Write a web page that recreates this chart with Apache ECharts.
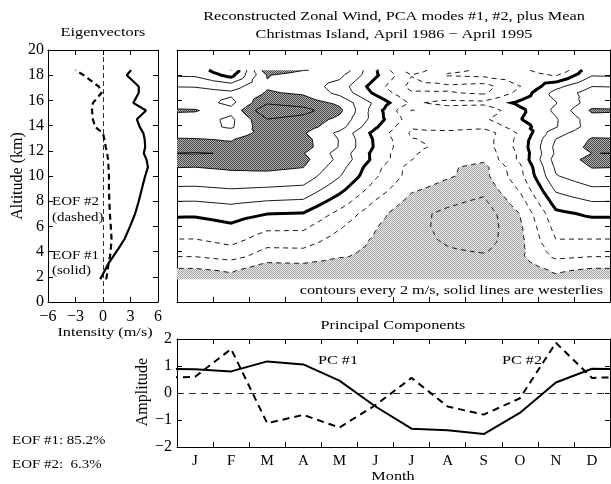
<!DOCTYPE html>
<html><head><meta charset="utf-8">
<script src="https://cdn.jsdelivr.net/npm/echarts@6/dist/echarts.min.js"></script>
<style>html,body{margin:0;padding:0;background:#fff}#c{width:611px;height:484px}</style>
</head><body><div id="c"></div>
<script>
// ---------------- data ----------------
const ALTITUDE_KM = [1.8,2.5,3.0,3.6,4.2,5.0,6.0,7.0,8.0,9.0,10.0,10.7,11.3,11.8,12.3,12.9,13.4,13.9,14.5,15.2,15.8,16.6,17.1,18.0,18.4];
const EOF1 = [-0.3,0.2,0.55,1.1,1.65,2.35,2.95,3.5,3.9,4.25,4.6,4.9,4.75,4.45,4.6,4.55,4.4,4.0,3.7,4.7,3.3,3.9,3.9,2.6,3.05];
const EOF2 = [0.35,0.5,0.6,0.76,0.85,0.93,0.85,0.75,0.69,0.65,0.65,0.6,0.55,0.45,0.3,0.15,0.0,-0.87,-1.1,-1.2,-1.1,-0.15,-0.45,-2.1,-3.0];
const MEAN_WIND = [-6.95,-6.78,-6.24,-5.42,-5.16,-4.63,-4.01,-3.23,-1.85,-0.43,0.86,1.33,1.99,1.76,2.17,2.01,1.53,1.9,2.4,2.78,2.66,1.46,0.74,0.7,0.4];
const MONTHS = ['J','F','M','A','M','J','J','A','S','O','N','D'];
const PC1 = [0.88,0.8,1.17,1.06,0.46,-0.5,-1.32,-1.38,-1.52,-0.74,0.39,0.9];
const PC2 = [0.6,1.63,-1.12,-0.81,-1.28,-0.45,0.56,-0.5,-0.8,-0.2,1.86,0.56];
const CONTOUR_LEVELS = [-10,-8,-6,-4,-2,0,2,4,6,8,10];
const SHADE_WEST = 6;
const SHADE_EAST = -6;
const VARIANCE = ['EOF #1: 85.2%', 'EOF #2:  6.3%'];

// ---------------- reconstruction: mean + PC1*EOF1 + PC2*EOF2 ----------------
const COLS = [];
for (let j = -1; j <= 12; j++) COLS.push({x: j + 0.5, m: (j + 12) % 12});
const FIELD = ALTITUDE_KM.map((z, i) => COLS.map(c => MEAN_WIND[i] + PC1[c.m] * EOF1[i] + PC2[c.m] * EOF2[i]));

function cut(p, q, f) {
  let a = p, b = q;
  if (a.x > b.x || (a.x === b.x && a.y > b.y)) { a = q; b = p; }
  const fa = f(a), fb = f(b), t = fa / (fa - fb);
  return {x: a.x + t * (b.x - a.x), y: a.y + t * (b.y - a.y), v: a.v + t * (b.v - a.v)};
}
function clipPoly(poly, f) {
  const out = [], n = poly.length;
  for (let k = 0; k < n; k++) {
    const p = poly[k], q = poly[(k + 1) % n];
    const sp = f(p) >= 0, sq = f(q) >= 0;
    if (sp) out.push(p);
    if (sp !== sq) out.push(cut(p, q, f));
  }
  return out;
}
const tris = [];
for (let i = 0; i < ALTITUDE_KM.length - 1; i++) {
  for (let j = 0; j < COLS.length - 1; j++) {
    const A = {x: COLS[j].x, y: ALTITUDE_KM[i], v: FIELD[i][j]};
    const B = {x: COLS[j + 1].x, y: ALTITUDE_KM[i], v: FIELD[i][j + 1]};
    const C = {x: COLS[j + 1].x, y: ALTITUDE_KM[i + 1], v: FIELD[i + 1][j + 1]};
    const D = {x: COLS[j].x, y: ALTITUDE_KM[i + 1], v: FIELD[i + 1][j]};
    const M = {x: (A.x + B.x) / 2, y: (A.y + D.y) / 2, v: (A.v + B.v + C.v + D.v) / 4};
    [[A, B, M], [B, C, M], [C, D, M], [D, A, M]].forEach(t => {
      let p = clipPoly(t, r => r.x - 0);
      if (p.length >= 3) p = clipPoly(p, r => 12 - r.x);
      if (p.length >= 3) tris.push(p);
    });
  }
}
const WEST_POLYS = [], EAST_POLYS = [];
tris.forEach(p => {
  const w = clipPoly(p, r => r.v - SHADE_WEST); if (w.length >= 3) WEST_POLYS.push(w);
  const e = clipPoly(p, r => SHADE_EAST - r.v); if (e.length >= 3) EAST_POLYS.push(e);
});
const key = p => p.x.toFixed(6) + ',' + p.y.toFixed(6);
function chain(segs) {
  const map = new Map();
  segs.forEach((s, k) => s.forEach(pt => { const kk = key(pt); if (!map.has(kk)) map.set(kk, []); map.get(kk).push(k); }));
  const used = segs.map(() => false), lines = [];
  for (let k = 0; k < segs.length; k++) {
    if (used[k]) continue;
    used[k] = true;
    const line = [segs[k][0], segs[k][1]];
    for (const dir of [1, -1]) {
      for (;;) {
        const end = dir === 1 ? line[line.length - 1] : line[0];
        const cand = (map.get(key(end)) || []).find(m => !used[m]);
        if (cand === undefined) break;
        used[cand] = true;
        const s = segs[cand];
        const nxt = key(s[0]) === key(end) ? s[1] : s[0];
        if (dir === 1) line.push(nxt); else line.unshift(nxt);
      }
    }
    lines.push(line);
  }
  return lines;
}
const CONTOURS = [];
CONTOUR_LEVELS.forEach(L => {
  const segs = [];
  tris.forEach(p => {
    const pts = [];
    for (let k = 0; k < p.length; k++) {
      const a = p[k], b = p[(k + 1) % p.length];
      if ((a.v >= L) !== (b.v >= L)) pts.push(cut(a, b, r => r.v - L));
    }
    if (pts.length >= 2) segs.push([pts[0], pts[1]]);
  });
  chain(segs).forEach(line => CONTOURS.push({level: L, pts: line}));
});

// ---------------- styling helpers ----------------
const FONT = "'Liberation Serif','Times New Roman',serif";
function makePattern(bg, fg) {
  const c = document.createElement('canvas'); c.width = 2; c.height = 2;
  const g = c.getContext('2d');
  g.fillStyle = bg; g.fillRect(0, 0, 2, 2);
  g.fillStyle = fg; g.fillRect(0, 0, 1, 1); g.fillRect(1, 1, 1, 1);
  return c;
}
const DARK = {image: makePattern('#b8b8b8', '#404040'), repeat: 'repeat'};
const LIGHT = {image: makePattern('#e8e8e8', '#a6a6a6'), repeat: 'repeat'};
const fmt = v => (v < 0 ? '\u2212' + (-v) : String(v));
const lineS = {color: '#000', width: 1};
function axis(o) {
  return Object.assign({
    type: 'value', axisLine: {show: true, onZero: false, lineStyle: lineS},
    axisTick: {show: true, inside: true, length: 5, lineStyle: {color: '#000', width: 1}},
    splitLine: {show: false}, axisLabel: {show: false}
  }, o);
}
const lab = (extra) => Object.assign({show: true, color: '#000', fontFamily: FONT, fontSize: 16, formatter: fmt, showMinLabel: true, showMaxLabel: true}, extra || {});
function T(text, x, y, o) {
  o = o || {};
  const al = o.align || 'center';
  return {type: 'text', x: x, y: y, rotation: o.rot || 0, scaleX: o.sx == null ? 1.25 : o.sx, silent: true, z: 100,
    style: {text: text, font: (o.size || 13) + 'px ' + FONT, fill: '#000', align: al, textAlign: al, verticalAlign: 'middle', textVerticalAlign: 'middle'}};
}
const toPath = (polys, api) => polys.map(poly => poly.map((p, k) => {
  const c = api.coord([p.x, p.y]); return (k ? 'L' : 'M') + c[0].toFixed(2) + ' ' + c[1].toFixed(2);
}).join('') + 'Z').join('');

const xExt = j => j + 0.5;
const pcData = arr => { const d = []; for (let j = -1; j <= 12; j++) d.push([xExt(j), arr[(j + 12) % 12]]); return d; };

const option = {
  animation: false,
  backgroundColor: '#fff',
  grid: [
    {left: 48, top: 50, width: 110, height: 252},
    {left: 177, top: 50, width: 433, height: 252},
    {left: 177, top: 339, width: 433, height: 108}
  ],
  xAxis: [
    axis({gridIndex: 0, position: 'bottom', min: -6, max: 6, interval: 3, axisLabel: lab({margin: 7})}),
    axis({gridIndex: 0, position: 'top', min: -6, max: 6, interval: 3}),
    axis({gridIndex: 1, position: 'bottom', min: 0, max: 12, interval: 1}),
    axis({gridIndex: 1, position: 'top', min: 0, max: 12, interval: 1}),
    {type: 'category', gridIndex: 2, position: 'bottom', data: MONTHS, boundaryGap: true,
      axisLine: {show: true, onZero: false, lineStyle: lineS},
      axisTick: {show: true, inside: true, length: 5, alignWithLabel: false, lineStyle: {color: '#000'}},
      splitLine: {show: false}, axisLabel: {show: true, color: '#000', fontFamily: FONT, fontSize: 15, margin: 7}},
    axis({gridIndex: 2, position: 'top', min: 0, max: 12, interval: 1})
  ],
  yAxis: [
    axis({gridIndex: 0, position: 'left', min: 0, max: 20, interval: 2, axisLabel: lab({margin: 4})}),
    axis({gridIndex: 0, position: 'right', min: 0, max: 20, interval: 2}),
    axis({gridIndex: 1, position: 'left', min: 0, max: 20, interval: 2}),
    axis({gridIndex: 1, position: 'right', min: 0, max: 20, interval: 2}),
    axis({gridIndex: 2, position: 'left', min: -2, max: 2, interval: 1, axisLabel: lab({margin: 5})}),
    axis({gridIndex: 2, position: 'right', min: -2, max: 2, interval: 1})
  ],
  series: [
    {type: 'line', xAxisIndex: 0, yAxisIndex: 0, symbol: 'none', silent: true,
      data: ALTITUDE_KM.map((z, i) => [EOF1[i], z]), lineStyle: {color: '#000', width: 2.2}, z: 5,
      markLine: {silent: true, symbol: 'none', label: {show: false}, animation: false,
        lineStyle: {color: '#000', width: 0.8, type: [5, 3]}, data: [{xAxis: 0}]}},
    {type: 'line', xAxisIndex: 0, yAxisIndex: 0, symbol: 'none', silent: true,
      data: ALTITUDE_KM.map((z, i) => [EOF2[i], z]), lineStyle: {color: '#000', width: 2.2, type: [6, 4]}, z: 5},
    {type: 'custom', xAxisIndex: 2, yAxisIndex: 2, silent: true, data: [[6, 10]], z: 2,
      renderItem: (params, api) => ({type: 'group', children: [
        {type: 'path', shape: {pathData: toPath(WEST_POLYS, api)}, style: {fill: DARK, stroke: null}},
        {type: 'path', shape: {pathData: toPath(EAST_POLYS, api)}, style: {fill: LIGHT, stroke: null}}
      ]})},
    {type: 'custom', xAxisIndex: 2, yAxisIndex: 2, silent: true, data: [[6, 10]], z: 3,
      renderItem: (params, api) => ({type: 'group', children: CONTOURS.map(c => ({
        type: 'polyline', shape: {points: c.pts.map(p => api.coord([p.x, p.y]))},
        style: {fill: 'none', stroke: '#000', lineWidth: c.level === 0 ? 3 : 0.9, lineDash: c.level < 0 ? [5, 4] : null}
      }))})},
    {type: 'line', xAxisIndex: 5, yAxisIndex: 4, symbol: 'none', silent: true, clip: true,
      data: pcData(PC1), lineStyle: {color: '#000', width: 2}, z: 5,
      markLine: {silent: true, symbol: 'none', label: {show: false}, animation: false,
        lineStyle: {color: '#000', width: 0.8, type: [7, 5]}, data: [{yAxis: 0}]}},
    {type: 'line', xAxisIndex: 5, yAxisIndex: 4, symbol: 'none', silent: true, clip: true,
      data: pcData(PC2), lineStyle: {color: '#000', width: 2, type: [7, 5]}, z: 5}
  ],
  graphic: [
    T('Eigenvectors', 103, 33),
    T('Reconstructed Zonal Wind, PCA modes #1, #2, plus Mean', 394, 17),
    T('Christmas Island, April 1986 \u2212 April 1995', 394, 35),
    T('Altitude (km)', 18, 176, {rot: Math.PI / 2, size: 16, sx: 1}),
    T('Intensity (m/s)', 105, 333),
    T('EOF #2', 52, 202, {align: 'left', sx: 1.15}),
    T('(dashed)', 52, 218, {align: 'left', sx: 1.15}),
    T('EOF #1', 52, 256, {align: 'left', sx: 1.15}),
    T('(solid)', 52, 271, {align: 'left', sx: 1.15}),
    T('contours every 2 m/s, solid lines are westerlies', 603, 291, {align: 'right'}),
    T('Principal Components', 393, 326),
    T('PC #1', 338, 361),
    T('PC #2', 522, 361),
    T('Amplitude', 143, 392, {rot: Math.PI / 2, size: 16, sx: 1}),
    T('Month', 393, 477),
    T(VARIANCE[0], 12, 441, {align: 'left', sx: 1.15}),
    T(VARIANCE[1], 12, 465, {align: 'left', sx: 1.15})
  ]
};
const chart = echarts.init(document.getElementById('c'), null, {renderer: 'canvas', width: 611, height: 484});
chart.setOption(option);
</script>
</body></html>
